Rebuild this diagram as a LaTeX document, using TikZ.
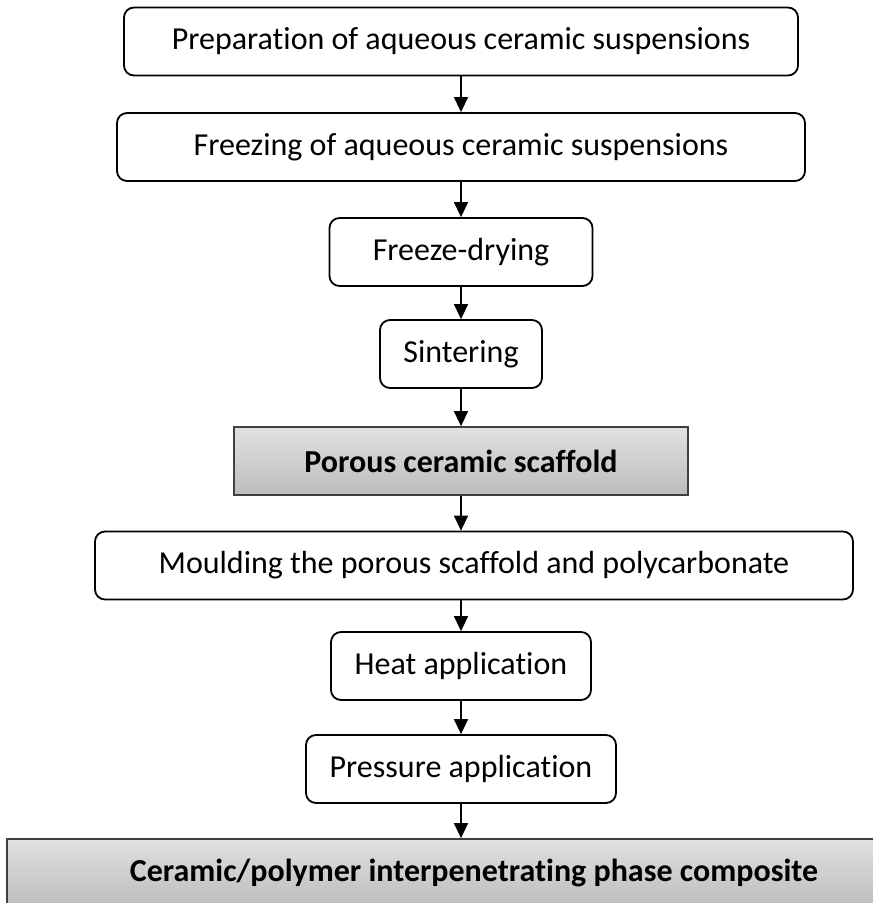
\documentclass[tikz,border=0pt]{standalone}
\usepackage{fontspec}
\setmainfont{Carlito}[Ligatures=NoCommon]
\usetikzlibrary{arrows.meta}
\tikzset{
  stepbox/.style={draw, line width=1.8pt, rounded corners=10pt, fill=white,
    inner sep=0pt, minimum height=68pt, font=\fontsize{32}{38}\selectfont},
  resultbox/.style={draw=black!75, line width=1.8pt, top color=black!12,
    bottom color=black!26, inner sep=0pt, minimum height=68pt,
    font=\bfseries\fontsize{32}{38}\selectfont},
  flowarrow/.style={-{Triangle[width=14pt,length=15pt]}, line width=1.4pt}
}
\begin{document}
\begin{tikzpicture}[x=1pt,y=-1pt]
    \useasboundingbox (0,0) rectangle (873,903);
    \clip (0,0) rectangle (873,903);
    \coordinate (spine) at (461,0);
    % Scaffold route
    \node[stepbox, minimum width=674pt] (prep) at (461,41.5) {Preparation of aqueous ceramic suspensions};
    \node[stepbox, minimum width=688pt] (freeze) at (461,147) {Freezing of aqueous ceramic suspensions};
    \node[stepbox, minimum width=263pt] (dry) at (461,252) {Freeze-drying};
    \node[stepbox, minimum width=162pt] (sinter) at (461,354) {Sintering};
    \node[resultbox, minimum width=454pt] (scaffold) at (461,461) {Porous ceramic scaffold};
    % Composite route
    \node[stepbox, minimum width=758pt] (mould) at (474,565.5) {Moulding the porous scaffold and polycarbonate};
    \node[stepbox, minimum width=260pt] (heat) at (461,666) {Heat application};
    \node[stepbox, minimum width=310pt] (press) at (461,769) {Pressure application};
    \node[resultbox, minimum width=934pt] (composite) at (474,873) {Ceramic/polymer interpenetrating phase composite};
    % Arrows
    \foreach \a/\b in {prep/freeze, freeze/dry, dry/sinter, sinter/scaffold,
        scaffold/mould, mould/heat, heat/press, press/composite} {
        \draw[flowarrow] (\a.south -| spine) -- (\b.north -| spine);
    }
\end{tikzpicture}
\end{document}
